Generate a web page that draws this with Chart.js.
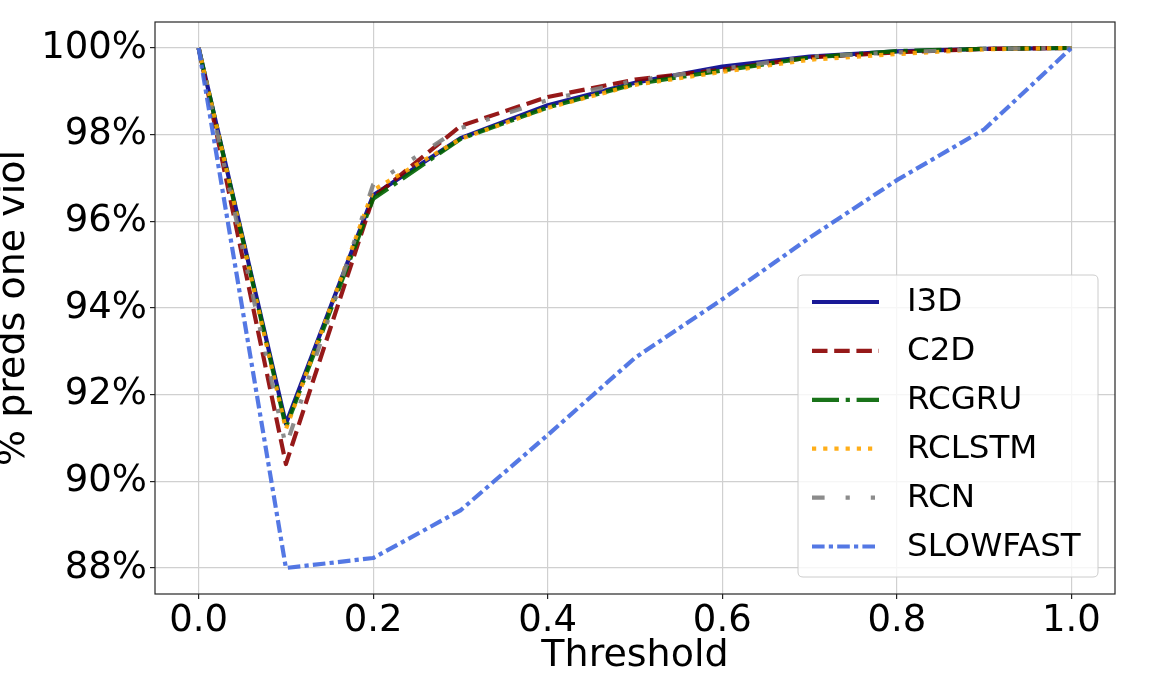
<!DOCTYPE html>
<html>
<head>
<meta charset="utf-8">
<script src="https://cdn.jsdelivr.net/npm/chart.js@4.4.1/dist/chart.umd.min.js"></script>
<style>
  html, body { margin: 0; padding: 0; background: #fff; overflow: hidden; }
  #c { display: block; }
</style>
</head>
<body>
<canvas id="c" width="1172" height="677" style="width:1172px;height:677px"></canvas>
<script>
// ---- data ----
const thresholds = [0.0, 0.1, 0.2, 0.3, 0.4, 0.5, 0.6, 0.7, 0.8, 0.9, 1.0];
const seriesNames = ["I3D", "C2D", "RCGRU", "RCLSTM", "RCN", "SLOWFAST"];
const i3d      = [100, 91.33, 96.60, 97.92, 98.68, 99.20, 99.57, 99.80, 99.92, 99.98, 100];
const c2d      = [100, 90.40, 96.55, 98.20, 98.87, 99.27, 99.50, 99.78, 99.90, 99.98, 100];
const rcgru    = [100, 91.25, 96.52, 97.90, 98.63, 99.17, 99.48, 99.78, 99.93, 99.98, 100];
const rclstm   = [100, 91.20, 96.72, 97.90, 98.62, 99.15, 99.45, 99.73, 99.86, 99.97, 100];
const rcn      = [100, 90.80, 96.85, 98.15, 98.80, 99.25, 99.52, 99.80, 99.90, 99.98, 100];
const slowfast = [100, 88.00, 88.23, 89.33, 91.07, 92.85, 94.20, 95.62, 96.95, 98.12, 100];
const xTicks = [0.0, 0.2, 0.4, 0.6, 0.8, 1.0];
const yTicks = [88, 90, 92, 94, 96, 98, 100];
const xTitle = "Threshold";
const yTitle = "% preds one viol";

// ---- styles ----
const FONT = "'DejaVu Sans', 'Liberation Sans', sans-serif";
const LW = 4.2;
const styles = [
  { color: "rgba(0,0,139,0.9)",     dash: [] },
  { color: "rgba(139,0,0,0.9)",     dash: [15.5, 6.7] },
  { color: "rgba(0,100,0,0.9)",     dash: [27, 6.7, 4.2, 6.7] },
  { color: "rgba(255,165,0,0.9)",   dash: [4.2, 7] },
  { color: "rgba(128,128,128,0.9)", dash: [12.6, 21, 4.2, 21, 4.2, 21] },
  { color: "rgba(65,105,225,0.9)",  dash: [12.6, 4.2, 4.2, 4.2] }
];
const allValues = [i3d, c2d, rcgru, rclstm, rcn, slowfast];

const datasets = allValues.map((vals, i) => ({
  label: seriesNames[i],
  data: thresholds.map((t, k) => ({ x: t, y: vals[k] })),
  borderColor: styles[i].color,
  backgroundColor: styles[i].color,
  borderDash: styles[i].dash,
  borderWidth: LW,
  borderCapStyle: "butt",
  borderJoinStyle: "round",
  pointRadius: 0,
  pointHoverRadius: 0,
  tension: 0,
  fill: false,
  order: allValues.length - 1 - i
}));

const framePlugin = {
  id: "frame",
  afterDatasetsDraw(chart) {
    const { ctx, chartArea: a } = chart;
    ctx.save();
    ctx.strokeStyle = "#262626";
    ctx.lineWidth = 1.2;
    ctx.strokeRect(a.left, a.top, a.right - a.left, a.bottom - a.top);
    ctx.restore();
  }
};

const legendPlugin = {
  id: "mplLegend",
  afterDraw(chart) {
    const { ctx, chartArea: a } = chart;
    const boxRight = a.right - 17, boxBottom = a.bottom - 17;
    const boxW = 300, boxH = 302;
    const bx = boxRight - boxW, by = boxBottom - boxH;
    ctx.save();
    const r = 5;
    ctx.beginPath();
    ctx.moveTo(bx + r, by);
    ctx.lineTo(bx + boxW - r, by);
    ctx.quadraticCurveTo(bx + boxW, by, bx + boxW, by + r);
    ctx.lineTo(bx + boxW, by + boxH - r);
    ctx.quadraticCurveTo(bx + boxW, by + boxH, bx + boxW - r, by + boxH);
    ctx.lineTo(bx + r, by + boxH);
    ctx.quadraticCurveTo(bx, by + boxH, bx, by + boxH - r);
    ctx.lineTo(bx, by + r);
    ctx.quadraticCurveTo(bx, by, bx + r, by);
    ctx.closePath();
    ctx.fillStyle = "rgba(255,255,255,0.8)";
    ctx.fill();
    ctx.strokeStyle = "#cccccc";
    ctx.lineWidth = 1;
    ctx.stroke();
    const rowH = 48.9;
    const y0 = by + 27;
    chart.data.datasets.forEach((ds, i) => {
      const y = y0 + i * rowH;
      ctx.beginPath();
      ctx.setLineDash(ds.borderDash);
      ctx.lineDashOffset = 0;
      ctx.lineCap = "butt";
      ctx.strokeStyle = ds.borderColor;
      ctx.lineWidth = LW;
      ctx.moveTo(bx + 14, y);
      ctx.lineTo(bx + 81, y);
      ctx.stroke();
      ctx.setLineDash([]);
      ctx.fillStyle = "#000";
      ctx.font = "32.5px " + FONT;
      ctx.textAlign = "left";
      ctx.textBaseline = "middle";
      ctx.fillText(ds.label, bx + 109, y + 1);
    });
    ctx.restore();
  }
};

new Chart(document.getElementById("c"), {
  type: "line",
  data: { datasets },
  options: {
    responsive: false,
    animation: false,
    devicePixelRatio: 1,
    layout: { padding: { top: 22, right: 57, left: 0, bottom: 0 } },
    plugins: { legend: { display: false }, tooltip: { enabled: false } },
    scales: {
      x: {
        type: "linear",
        min: -0.05,
        max: 1.05,
        afterBuildTicks: (s) => { s.ticks = xTicks.map(v => ({ value: v })); },
        afterFit: (s) => { s.height = 83; s.paddingLeft = 0; s.paddingRight = 0; },
        border: { display: false },
        grid: { color: "#d0d0d0", lineWidth: 1.2, tickLength: 5, tickColor: "#222", drawTicks: true },
        ticks: {
          padding: 0,
          color: "#000",
          maxRotation: 0,
          font: { family: FONT, size: 37 },
          callback: (v) => Number(v).toFixed(1)
        },
        title: {
          display: true,
          text: xTitle,
          color: "#000",
          padding: 0,
          font: { family: FONT, size: 38, lineHeight: 1.1 }
        }
      },
      y: {
        type: "linear",
        min: 87.4,
        max: 100.6,
        afterBuildTicks: (s) => { s.ticks = yTicks.map(v => ({ value: v })); },
        afterFit: (s) => { s.width = 155; s.paddingTop = 0; s.paddingBottom = 0; },
        border: { display: false },
        grid: { color: "#d0d0d0", lineWidth: 1.2, tickLength: 5, tickColor: "#222", drawTicks: true },
        ticks: {
          padding: 3,
          color: "#000",
          font: { family: FONT, size: 37 },
          callback: (v) => v + "%"
        },
        title: {
          display: true,
          text: yTitle,
          color: "#000",
          padding: 0,
          font: { family: FONT, size: 38, lineHeight: 0.75 }
        }
      }
    }
  },
  plugins: [framePlugin, legendPlugin]
});
</script>
</body>
</html>
